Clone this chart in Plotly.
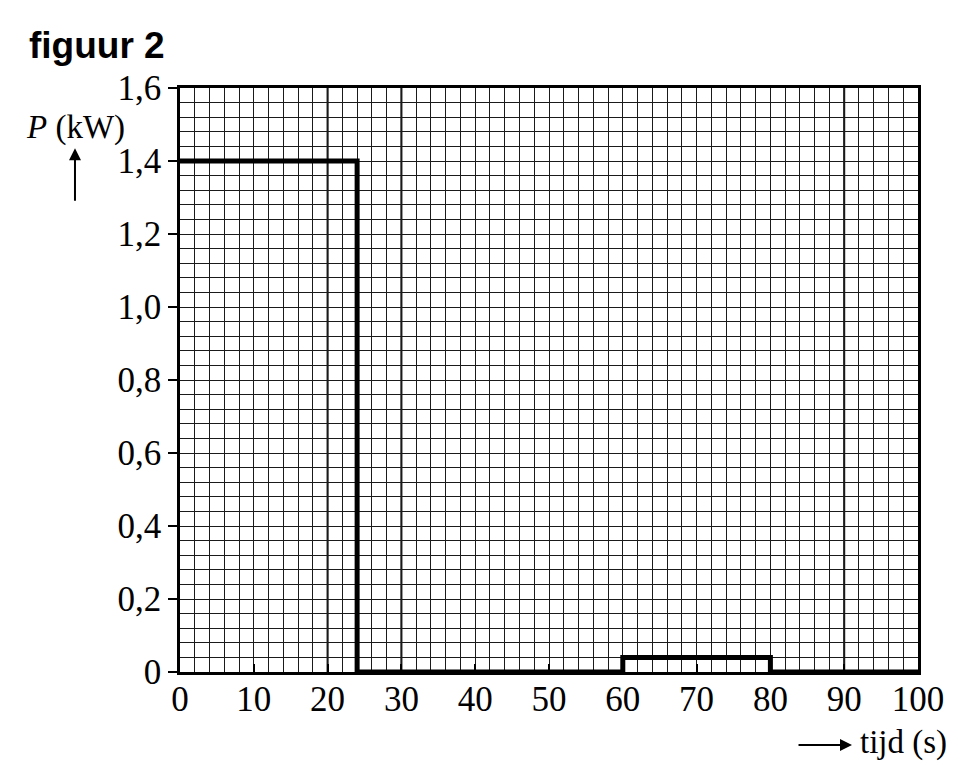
import plotly.graph_objects as go

# vermogen P (kW) als functie van de tijd (s), trapfunctie
tijd = [0, 24, 60, 80, 100]
vermogen = [1.4, 0, 0.04, 0, 0]

x_ticks = [0, 10, 20, 30, 40, 50, 60, 70, 80, 90, 100]
y_ticks = [0, 0.2, 0.4, 0.6, 0.8, 1.0, 1.2, 1.4, 1.6]
y_labels = ["0", "0,2", "0,4", "0,6", "0,8", "1,0", "1,2", "1,4", "1,6"]
dikke_lijnen = [20, 30, 90]  # iets dikkere rasterlijnen in het origineel

serif = "Liberation Serif, Times New Roman, serif"

fig = go.Figure()
fig.add_trace(go.Scatter(
    x=tijd, y=vermogen,
    mode="lines",
    line=dict(shape="hv", color="black", width=5),
    cliponaxis=False,
    showlegend=False,
))

for xv in dikke_lijnen:
    fig.add_shape(type="line", xref="x", yref="paper", x0=xv, x1=xv, y0=0, y1=1,
                  line=dict(color="black", width=2), layer="below")

fig.update_xaxes(
    range=[0, 100],
    tickvals=x_ticks,
    ticks="inside", ticklen=8, tickwidth=1.5, tickcolor="black",
    ticklabelstandoff=-6,
    showgrid=True, gridcolor="#1a1a1a", gridwidth=1.3,
    minor=dict(dtick=2, showgrid=True, gridcolor="#1a1a1a", gridwidth=1.3),
    showline=True, linecolor="black", linewidth=2.5, mirror=True,
    zeroline=False,
    tickfont=dict(family=serif, size=35, color="black"),
)
fig.update_yaxes(
    range=[0, 1.6],
    tickvals=y_ticks, ticktext=y_labels,
    ticks="outside", ticklen=9, tickwidth=2, tickcolor="black",
    showgrid=True, gridcolor="#1a1a1a", gridwidth=1.3,
    minor=dict(dtick=0.04, showgrid=True, gridcolor="#1a1a1a", gridwidth=1.3),
    showline=True, linecolor="black", linewidth=2.5, mirror=True,
    zeroline=False,
    tickfont=dict(family=serif, size=35, color="black"),
)

fig.update_layout(
    width=963, height=772,
    margin=dict(l=172, r=53, t=80, b=108),
    paper_bgcolor="white", plot_bgcolor="white",
    annotations=[
        dict(text="<b>figuur 2</b>", xref="paper", yref="paper", x=-0.2073, y=1.073,
             xanchor="left", yanchor="middle", showarrow=False,
             font=dict(family="Liberation Sans, Arial, sans-serif", size=37, color="black")),
        dict(text="<i>P</i> (kW)", xref="paper", yref="paper", x=-0.212, y=0.932,
             xanchor="left", yanchor="middle", showarrow=False,
             font=dict(family=serif, size=33, color="black")),
        dict(text="", xref="paper", yref="paper", x=-0.1423, y=0.897,
             ax=0, ay=54, showarrow=True, arrowhead=2, arrowsize=1.2,
             arrowwidth=2, arrowcolor="black"),
        dict(text="tijd (s)", xref="paper", yref="paper", x=0.9187, y=-0.12,
             xanchor="left", yanchor="middle", showarrow=False,
             font=dict(family=serif, size=33, color="black")),
        dict(text="", xref="paper", yref="paper", x=0.9106, y=-0.125,
             ax=-55, ay=0, showarrow=True, arrowhead=2, arrowsize=1.2,
             arrowwidth=2, arrowcolor="black"),
    ],
)

fig.write_html("out.html")
